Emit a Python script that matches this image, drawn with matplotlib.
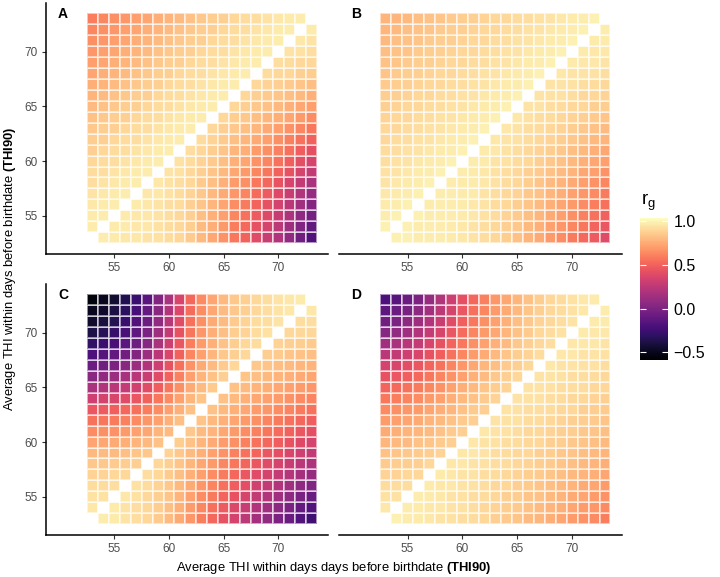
import numpy as np
import matplotlib.pyplot as plt
from matplotlib.colors import Normalize

plt.rcParams['font.family'] = ['Liberation Sans', 'DejaVu Sans']
plt.rcParams['mathtext.fontset'] = 'custom'
plt.rcParams['mathtext.rm'] = 'Liberation Sans'
plt.rcParams['mathtext.it'] = 'Liberation Sans:italic'
plt.rcParams['mathtext.bf'] = 'Liberation Sans:bold'

# THI90 values on both axes (tile centres)
thi = list(range(53, 74))
tick_vals = [55, 60, 65, 70]
cbar_ticks = [-0.5, 0.0, 0.5, 1.0]

# genetic correlations x100, rows from THI 73 (top) down to 53 (bottom),
# columns THI 53..73, diagonal left empty
N = None
rg_a = [
    [60, 63, 66, 68, 71, 73, 76, 78, 81, 83, 85, 87, 88, 90, 92, 93, 95, 96, 97, 98, N],
    [63, 66, 68, 71, 73, 76, 78, 81, 83, 85, 87, 88, 90, 92, 93, 95, 96, 97, 98, N, 97],
    [66, 68, 71, 73, 76, 78, 81, 83, 85, 87, 88, 90, 92, 93, 95, 96, 97, 98, N, 96, 95],
    [68, 71, 73, 76, 78, 81, 83, 85, 87, 88, 90, 92, 93, 95, 96, 97, 98, N, 95, 94, 93],
    [71, 73, 76, 78, 81, 83, 85, 87, 88, 90, 92, 93, 95, 96, 97, 98, N, 93, 92, 91, 90],
    [73, 76, 78, 81, 83, 85, 87, 88, 90, 92, 93, 95, 96, 97, 98, N, 92, 91, 90, 88, 87],
    [76, 78, 81, 83, 85, 87, 88, 90, 92, 93, 95, 96, 97, 98, N, 91, 89, 88, 86, 84, 82],
    [78, 81, 83, 85, 87, 88, 90, 92, 93, 95, 96, 97, 98, N, 90, 88, 86, 84, 82, 80, 77],
    [81, 83, 85, 87, 88, 90, 92, 93, 95, 96, 97, 98, N, 90, 88, 85, 83, 80, 77, 74, 71],
    [83, 85, 87, 88, 90, 92, 93, 95, 96, 97, 98, N, 90, 87, 85, 82, 79, 76, 73, 69, 65],
    [85, 87, 88, 90, 92, 93, 95, 96, 97, 98, N, 91, 88, 85, 82, 79, 75, 71, 67, 63, 58],
    [87, 88, 90, 92, 93, 95, 96, 97, 98, N, 92, 89, 86, 82, 79, 75, 71, 66, 61, 56, 50],
    [88, 90, 92, 93, 95, 96, 97, 98, N, 93, 90, 87, 84, 79, 76, 70, 66, 61, 55, 48, 42],
    [90, 92, 93, 95, 96, 97, 98, N, 94, 92, 89, 86, 82, 77, 73, 67, 62, 56, 49, 42, 35],
    [92, 93, 95, 96, 97, 98, N, 95, 94, 91, 88, 84, 80, 74, 69, 63, 57, 50, 43, 35, 27],
    [93, 95, 96, 97, 98, N, 96, 94, 93, 90, 86, 82, 77, 70, 66, 58, 52, 44, 36, 27, 18],
    [95, 96, 97, 98, N, 96, 96, 94, 92, 89, 85, 80, 75, 68, 62, 54, 47, 39, 30, 20, 10],
    [96, 97, 98, N, 97, 96, 95, 93, 92, 88, 84, 79, 73, 65, 59, 51, 43, 34, 24, 14, 3],
    [97, 98, N, 97, 96, 96, 95, 93, 91, 88, 82, 77, 71, 63, 56, 47, 39, 29, 19, 7, -4],
    [98, N, 97, 97, 96, 96, 94, 92, 91, 87, 81, 76, 69, 60, 53, 43, 35, 25, 13, 1, -11],
    [N, 98, 97, 96, 96, 95, 94, 92, 90, 86, 80, 74, 67, 58, 50, 40, 30, 20, 8, -5, -18],
]
rg_b = [
    [78, 79, 80, 82, 83, 84, 86, 87, 88, 89, 90, 91, 92, 93, 94, 95, 96, 97, 98, 99, N],
    [79, 80, 82, 83, 84, 86, 87, 88, 89, 90, 91, 92, 93, 94, 95, 96, 97, 98, 99, N, 98],
    [80, 82, 83, 84, 86, 87, 88, 89, 90, 91, 92, 93, 94, 95, 96, 97, 98, 99, N, 97, 97],
    [82, 83, 84, 86, 87, 88, 89, 90, 91, 92, 93, 94, 95, 96, 97, 98, 99, N, 97, 96, 96],
    [83, 84, 86, 87, 88, 89, 90, 91, 92, 93, 94, 95, 96, 97, 98, 99, N, 97, 96, 96, 95],
    [84, 86, 87, 88, 89, 90, 91, 92, 93, 94, 95, 96, 97, 98, 99, N, 96, 95, 95, 94, 93],
    [86, 87, 88, 89, 90, 91, 92, 93, 94, 95, 96, 97, 98, 99, N, 95, 95, 94, 93, 92, 91],
    [87, 88, 89, 90, 91, 92, 93, 94, 95, 96, 97, 98, 99, N, 95, 94, 94, 93, 91, 90, 89],
    [88, 89, 90, 91, 92, 93, 94, 95, 96, 97, 98, 99, N, 95, 95, 93, 92, 91, 90, 88, 87],
    [89, 90, 91, 92, 93, 94, 95, 96, 97, 98, 99, N, 96, 94, 93, 92, 91, 89, 88, 86, 84],
    [90, 91, 92, 93, 94, 95, 96, 97, 98, 99, N, 96, 95, 93, 92, 90, 89, 87, 85, 83, 81],
    [91, 92, 93, 94, 95, 96, 97, 98, 99, N, 96, 95, 94, 92, 91, 89, 87, 85, 83, 80, 78],
    [92, 93, 94, 95, 96, 97, 98, 99, N, 97, 96, 94, 93, 91, 89, 87, 85, 82, 80, 77, 74],
    [93, 94, 95, 96, 97, 98, 99, N, 98, 97, 95, 94, 92, 90, 88, 85, 83, 80, 77, 74, 71],
    [94, 95, 96, 97, 98, 99, N, 98, 97, 96, 94, 93, 91, 88, 86, 83, 81, 78, 74, 71, 67],
    [95, 96, 97, 98, 99, N, 98, 97, 97, 96, 94, 92, 90, 87, 84, 81, 78, 75, 71, 67, 63],
    [96, 97, 98, 99, N, 98, 98, 97, 97, 95, 93, 91, 89, 85, 83, 79, 76, 72, 68, 64, 59],
    [97, 98, 99, N, 98, 98, 98, 97, 96, 95, 92, 90, 87, 84, 81, 77, 73, 69, 65, 60, 55],
    [98, 99, N, 99, 98, 98, 98, 97, 96, 94, 92, 89, 86, 82, 79, 75, 71, 66, 61, 56, 50],
    [99, N, 99, 98, 98, 98, 97, 96, 95, 93, 91, 88, 85, 80, 77, 72, 68, 63, 57, 51, 45],
    [N, 99, 99, 98, 98, 98, 97, 96, 95, 93, 90, 87, 83, 78, 75, 69, 65, 59, 53, 47, 40],
]
rg_c = [
    [-55, -50, -44, -36, -26, -14, 2, 18, 36, 52, 64, 73, 80, 85, 88, 91, 93, 95, 96, 97, N],
    [-50, -45, -39, -32, -22, -10, 5, 21, 38, 54, 65, 74, 81, 85, 88, 91, 93, 95, 96, N, 96],
    [-45, -40, -35, -27, -18, -7, 8, 23, 40, 55, 66, 75, 81, 86, 89, 92, 93, 95, N, 93, 93],
    [-38, -34, -28, -21, -12, -1, 13, 27, 43, 57, 68, 76, 82, 87, 89, 92, 94, N, 91, 91, 90],
    [-30, -26, -21, -14, -6, 4, 18, 31, 46, 60, 70, 77, 83, 87, 90, 92, N, 89, 88, 87, 86],
    [-20, -16, -11, -5, 2, 12, 24, 37, 50, 63, 72, 79, 85, 88, 91, N, 87, 86, 84, 83, 82],
    [-8, -5, 0, 5, 12, 21, 32, 43, 55, 67, 75, 81, 86, 90, N, 85, 84, 82, 81, 79, 78],
    [5, 8, 12, 17, 23, 30, 40, 50, 61, 71, 78, 83, 88, N, 84, 82, 80, 78, 77, 75, 73],
    [18, 21, 24, 28, 33, 40, 48, 57, 66, 75, 81, 86, N, 83, 81, 78, 76, 74, 72, 70, 68],
    [32, 34, 37, 40, 45, 50, 57, 64, 72, 79, 84, N, 83, 80, 77, 74, 72, 70, 67, 64, 62],
    [45, 47, 49, 52, 55, 60, 65, 71, 77, 83, N, 83, 80, 77, 74, 70, 68, 65, 62, 59, 56],
    [56, 57, 59, 61, 64, 68, 72, 77, 82, N, 84, 80, 77, 73, 69, 66, 62, 59, 56, 52, 49],
    [65, 66, 67, 69, 72, 74, 78, 81, N, 85, 81, 78, 74, 69, 65, 61, 57, 54, 50, 46, 42],
    [73, 74, 75, 76, 78, 80, 83, N, 87, 83, 79, 75, 70, 66, 61, 56, 52, 48, 44, 39, 35],
    [80, 81, 81, 82, 84, 85, N, 89, 85, 81, 77, 72, 67, 61, 56, 51, 46, 42, 37, 32, 27],
    [85, 85, 86, 87, 88, N, 91, 88, 84, 79, 74, 69, 63, 57, 51, 46, 40, 35, 30, 24, 19],
    [89, 89, 90, 90, N, 93, 90, 86, 82, 77, 71, 65, 59, 52, 46, 40, 34, 28, 22, 16, 10],
    [92, 92, 93, N, 94, 92, 89, 85, 80, 75, 68, 62, 55, 48, 41, 33, 27, 21, 14, 7, 1],
    [94, 94, N, 96, 94, 91, 88, 84, 78, 72, 65, 59, 51, 43, 35, 27, 21, 14, 7, -1, -8],
    [96, N, 97, 95, 93, 91, 87, 82, 77, 70, 63, 55, 47, 38, 30, 21, 14, 6, -1, -10, -17],
    [N, 98, 97, 95, 93, 90, 86, 81, 75, 68, 60, 52, 43, 34, 25, 16, 8, 0, -8, -17, -25],
]
rg_d = [
    [-20, -15, -8, 0, 10, 20, 31, 42, 52, 61, 68, 74, 79, 83, 87, 90, 92, 94, 96, 97, N],
    [-13, -8, -2, 6, 15, 25, 35, 45, 55, 63, 70, 75, 80, 84, 88, 91, 92, 94, 96, N, 98],
    [-5, -1, 6, 13, 21, 30, 40, 49, 58, 66, 72, 77, 82, 85, 89, 91, 93, 95, N, 97, 97],
    [4, 8, 14, 20, 28, 36, 45, 54, 62, 69, 74, 79, 83, 86, 90, 92, 94, N, 97, 96, 96],
    [14, 18, 23, 28, 36, 43, 51, 58, 66, 72, 77, 81, 85, 88, 91, 93, N, 96, 96, 96, 95],
    [24, 27, 32, 37, 43, 49, 56, 63, 70, 75, 80, 84, 87, 89, 92, N, 96, 96, 95, 95, 94],
    [34, 37, 41, 45, 51, 56, 62, 68, 74, 79, 82, 86, 88, 91, N, 96, 95, 95, 94, 94, 93],
    [43, 45, 49, 53, 57, 62, 67, 72, 77, 81, 85, 88, 90, N, 95, 95, 94, 93, 93, 92, 91],
    [51, 53, 56, 59, 63, 67, 72, 76, 80, 84, 87, 89, N, 95, 95, 94, 93, 93, 92, 91, 90],
    [58, 60, 62, 65, 69, 72, 76, 80, 83, 86, 89, N, 95, 94, 94, 93, 92, 91, 90, 89, 88],
    [64, 66, 68, 70, 73, 76, 79, 83, 86, 88, N, 95, 94, 93, 93, 92, 91, 90, 88, 87, 86],
    [70, 71, 73, 75, 78, 80, 83, 86, 88, N, 95, 94, 94, 92, 92, 90, 89, 88, 87, 86, 84],
    [75, 76, 78, 79, 81, 83, 86, 88, N, 96, 95, 94, 93, 91, 91, 89, 88, 87, 85, 84, 82],
    [79, 80, 81, 83, 84, 86, 88, N, 96, 95, 94, 93, 92, 91, 90, 88, 87, 85, 84, 82, 80],
    [83, 84, 85, 86, 87, 89, N, 96, 96, 95, 93, 92, 91, 90, 88, 87, 85, 84, 82, 80, 78],
    [86, 87, 87, 88, 90, N, 96, 96, 95, 94, 93, 92, 90, 89, 87, 86, 84, 82, 80, 78, 76],
    [89, 89, 90, 91, N, 97, 96, 95, 95, 93, 92, 91, 89, 87, 86, 84, 82, 80, 78, 76, 73],
    [92, 92, 93, N, 97, 96, 96, 95, 94, 93, 91, 90, 88, 86, 84, 82, 80, 78, 75, 73, 70],
    [94, 94, N, 98, 97, 96, 95, 94, 93, 92, 90, 88, 87, 84, 83, 80, 78, 75, 73, 70, 67],
    [96, N, 98, 97, 96, 96, 95, 94, 93, 91, 89, 87, 86, 83, 81, 78, 76, 73, 70, 68, 64],
    [N, 99, 98, 97, 96, 95, 94, 93, 92, 90, 88, 86, 84, 81, 79, 76, 73, 70, 67, 64, 60],
]

panels = [('A', rg_a), ('B', rg_b), ('C', rg_c), ('D', rg_d)]

W, H = 720, 577
fig = plt.figure(figsize=(W / 100, H / 100), dpi=100)

# panel boxes in pixels: left, top, right, bottom
boxes = {'A': (46, 3, 328, 254), 'B': (339, 3, 622, 254),
         'C': (46, 284, 328, 535), 'D': (339, 284, 622, 535)}

norm = Normalize(vmin=-0.59, vmax=1.04)
edges = np.append(np.array(thi) - 0.5, thi[-1] + 0.5)

for name, rows in panels:
    l, t, r, b = boxes[name]
    ax = fig.add_axes([l / W, 1 - b / H, (r - l) / W, (b - t) / H])
    z = np.array(rows, dtype=float)[::-1] / 100
    mesh = ax.pcolormesh(edges, edges, np.ma.masked_invalid(z), cmap='magma',
                         norm=norm, edgecolors=(1, 1, 1, 0.55), linewidth=0.12)
    ax.set_xlim(48.75, 74.55)
    ax.set_ylim(51.5, 74.45)
    ax.spines['top'].set_visible(False)
    ax.spines['right'].set_visible(False)
    ax.set_xticks(tick_vals)
    ax.set_yticks(tick_vals)
    ax.tick_params(direction='out', length=3, width=0.8, color='#333333',
                   labelcolor='#4D4D4D', labelsize=8.5, pad=3)
    for s in ax.spines.values():
        s.set_linewidth(1.1)
    if name in ('B', 'D'):
        ax.spines['left'].set_visible(False)
        ax.tick_params(axis='y', left=False, labelleft=False)
    ax.text(0.06, 0.955, name, transform=ax.transAxes, ha='center', va='center',
            fontsize=10, fontweight='bold')

# colour bar
cax = fig.add_axes([640 / W, 1 - 360 / H, 28 / W, 142 / H])
cb = fig.colorbar(mesh, cax=cax, ticks=cbar_ticks)
cb.outline.set_visible(False)
cb.ax.tick_params(direction='in', length=4, width=0.8, colors='white',
                  left=True, right=True, labelsize=11.5, labelcolor='black', pad=4)
cb.ax.set_yticklabels(['\u22120.5', '0.0', '0.5', '1.0'])
fig.text(648 / W, 1 - 202 / H, r'$\mathregular{r_g}$', ha='center', va='center',
         fontsize=13.5)

fig.text(334 / W, 1 - 568 / H,
         r'Average THI within days days before birthdate $\mathbf{(THI90)}$',
         ha='center', va='center', fontsize=9.4)
fig.text(10 / W, 1 - 269 / H,
         r'Average THI within days before birthdate $\mathbf{(THI90)}$',
         ha='center', va='center', rotation=90, fontsize=9.4)

fig.savefig('out.png', dpi=100)
